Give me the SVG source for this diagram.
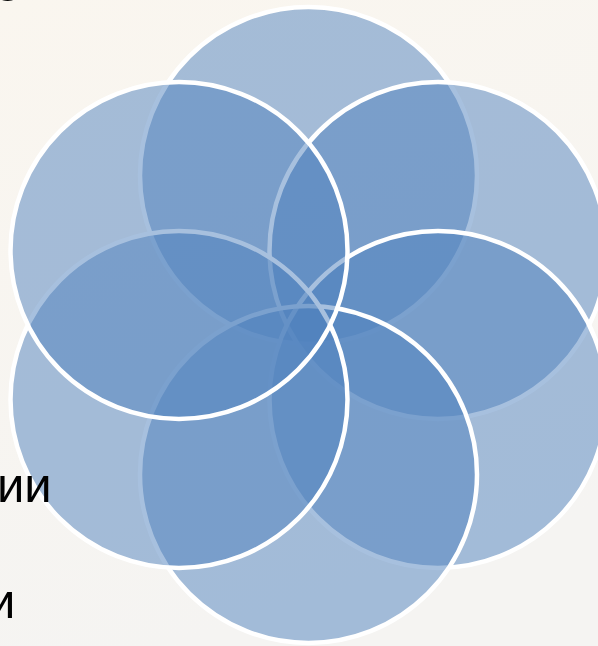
<svg xmlns="http://www.w3.org/2000/svg" width="598" height="646" viewBox="0 0 598 646">
<defs>
<linearGradient id="bg" x1="0" y1="0" x2="0.3" y2="1">
<stop offset="0" stop-color="#faf6ef"/>
<stop offset="1" stop-color="#f5f4f2"/>
</linearGradient>
</defs>
<style>
.c{fill:#4f81bd;fill-opacity:0.5;stroke:#ffffff;stroke-width:4.5}
.t{font-family:"Liberation Sans",Arial,sans-serif;font-size:49px;fill:#000000}
</style>
<rect x="0" y="0" width="598" height="646" fill="url(#bg)"/>
<g id="node-top"><circle class="c" cx="308.5" cy="175.5" r="168.5"/></g>
<g id="node-upper-right"><circle class="c" cx="438" cy="250.5" r="168.5"/></g>
<g id="node-lower-right"><circle class="c" cx="438" cy="399.5" r="168.5"/></g>
<g id="node-bottom"><circle class="c" cx="308.5" cy="474.5" r="168.5"/></g>
<g id="node-lower-left"><circle class="c" cx="179" cy="399.5" r="168.5"/></g>
<g id="node-upper-left"><circle class="c" cx="179" cy="250.5" r="168.5"/></g>
<g id="connectors"></g>
<g id="labels">
<text class="t" x="-6" y="1">е</text>
<text class="t" x="-3" y="502">ии</text>
<text class="t" x="-12" y="618">и</text>
</g>
</svg>
